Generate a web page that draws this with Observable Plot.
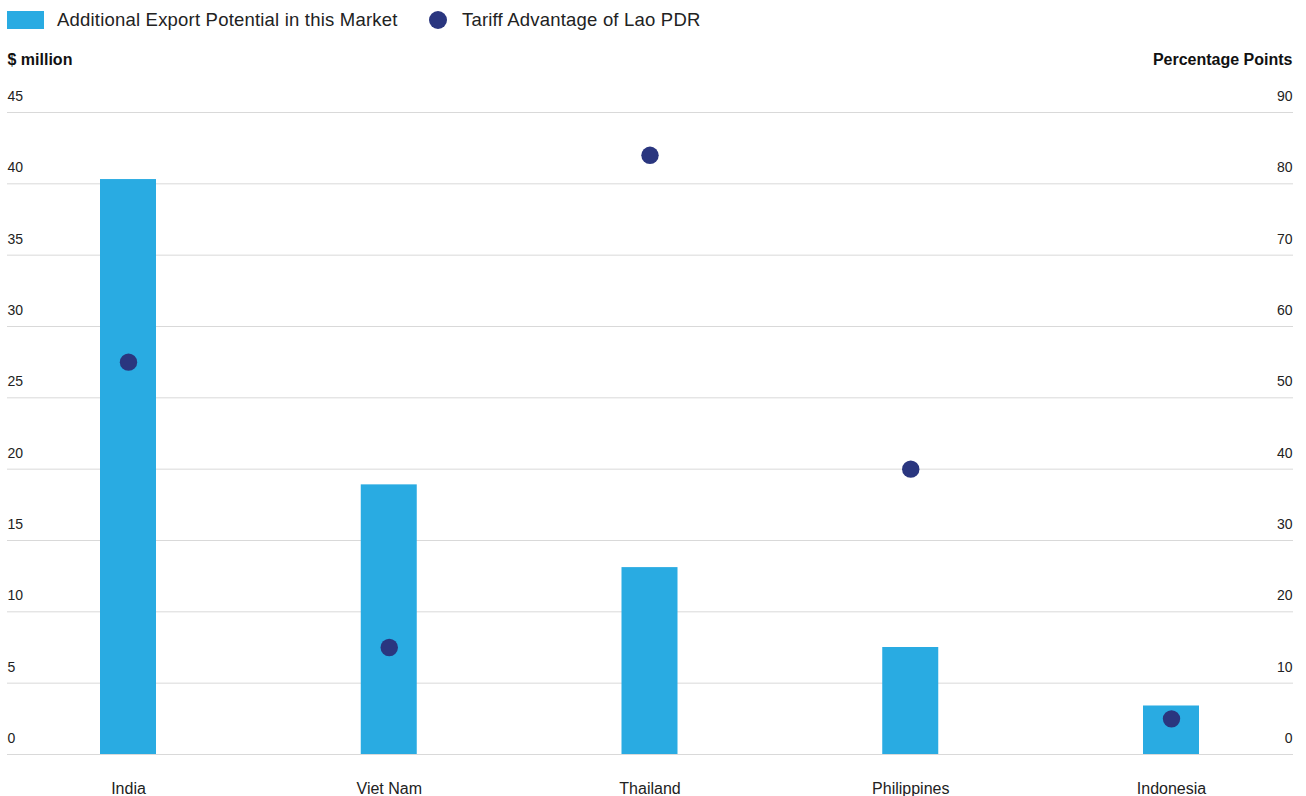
<!DOCTYPE html>
<html>
<head>
<meta charset="utf-8">
<script src="https://cdn.jsdelivr.net/npm/d3@7"></script>
<script src="https://cdn.jsdelivr.net/npm/@observablehq/plot@0.6"></script>
<style>
  html, body { margin: 0; padding: 0; background: #fff; }
  body { width: 1306px; font-family: "Liberation Sans", Arial, Helvetica, sans-serif; color: #222; }
  .legend { height: 40px; position: relative; font-size: 18.5px; letter-spacing: 0.2px; }
  .legend .item { position: absolute; top: 0; height: 40px; display: flex; align-items: center; }
  .legend .sw-bar { width: 37px; height: 18px; background: #29abe2; margin-right: 13px; }
  .legend .sw-dot { width: 18px; height: 18px; border-radius: 50%; background: #2a367f; margin-right: 15px; }
  #chart svg { display: block; }
</style>
</head>
<body>
<div class="legend">
  <div class="item" style="left:7px"><span class="sw-bar"></span><span>Additional Export Potential in this Market</span></div>
  <div class="item" style="left:429px"><span class="sw-dot"></span><span>Tariff Advantage of Lao PDR</span></div>
</div>
<div id="chart"></div>
<script>
// Markets, in display order
const markets = ["India", "Viet Nam", "Thailand", "Philippines", "Indonesia"];
// Additional export potential, $ million (left axis)
const exportPotential = [40.3, 18.9, 13.1, 7.5, 3.4];
// Tariff advantage of Lao PDR, percentage points (right axis)
const tariffAdvantage = [55, 15, 84, 40, 5];
// Axis ticks
const leftTicks = [0, 5, 10, 15, 20, 25, 30, 35, 40, 45];
const rightTicks = [0, 10, 20, 30, 40, 50, 60, 70, 80, 90];

const leftMax = 45, rightMax = 90;
const toLeft = v => v * leftMax / rightMax; // map right-axis values onto the left scale

const data = markets.map((m, i) => ({market: m, potential: exportPotential[i], tariff: tariffAdvantage[i]}));

const width = 1306, height = 756;
const marginLeft = 7, marginRight = 13, marginTop = 72, marginBottom = 42;
const step = 260.75;
const barWidth = 56;
const inset = (step - barWidth) / 2;
const font = "'Liberation Sans', Arial, Helvetica, sans-serif";

const chart = Plot.plot({
  width, height,
  marginLeft, marginRight, marginTop, marginBottom,
  style: {fontFamily: font, color: "#222", background: "#fff"},
  x: {domain: markets, range: [128 - step / 2, 128 + step * 4.5], padding: 0, round: false, label: null},
  y: {domain: [0, leftMax], label: null, axis: null},
  marks: [
    Plot.ruleY(leftTicks, {stroke: "#d9d9d9", strokeWidth: 1}),
    Plot.barY(data, {x: "market", y: "potential", fill: "#29abe2", insetLeft: inset, insetRight: inset}),
    Plot.dot(data, {x: "market", y: d => toLeft(d.tariff), r: 8.7, fill: "#2a367f", stroke: null}),
    // left tick labels, set just above each gridline
    Plot.text(leftTicks, {y: d => d, text: d => String(d), frameAnchor: "left", textAnchor: "start", lineAnchor: "middle", dy: -16, fontSize: 14, fill: "#222"}),
    // right tick labels
    Plot.text(rightTicks, {y: d => toLeft(d), text: d => String(d), frameAnchor: "right", textAnchor: "end", lineAnchor: "middle", dx: -1, dy: -16, fontSize: 14, fill: "#222"}),
    // axis titles
    Plot.text(["$ million"], {frameAnchor: "top-left", textAnchor: "start", lineAnchor: "middle", dy: -53, fontSize: 16, fontWeight: "bold", fill: "#111"}),
    Plot.text(["Percentage Points"], {frameAnchor: "top-right", textAnchor: "end", lineAnchor: "middle", dx: -1, dy: -53, fontSize: 16, fontWeight: "bold", fill: "#111"}),
    Plot.axisX({tickSize: 0, tickPadding: 28, fontSize: 16, label: null, fill: "#222"})
  ]
});
document.getElementById("chart").appendChild(chart);
</script>
</body>
</html>
